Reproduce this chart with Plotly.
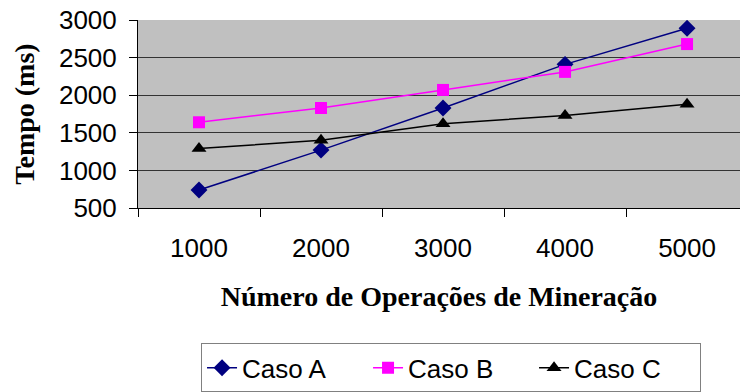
import plotly.graph_objects as go

categories = ["1000", "2000", "3000", "4000", "5000"]
caso_a = [740, 1270, 1830, 2410, 2890]
caso_b = [1640, 1830, 2070, 2310, 2680]
caso_c = [1290, 1400, 1620, 1730, 1880]
y_ticks = [500, 1000, 1500, 2000, 2500, 3000]

fig = go.Figure()
fig.add_trace(go.Scatter(x=categories, y=caso_a, name="Caso A", mode="lines+markers",
                         line=dict(color="#000080", width=1.5),
                         marker=dict(symbol="diamond", size=13, color="#000080")))
fig.add_trace(go.Scatter(x=categories, y=caso_b, name="Caso B", mode="lines+markers",
                         line=dict(color="#FF00FF", width=1.5),
                         marker=dict(symbol="square", size=12, color="#FF00FF")))
fig.add_trace(go.Scatter(x=categories, y=caso_c, name="Caso C", mode="lines+markers",
                         line=dict(color="#000000", width=1.5),
                         marker=dict(symbol="triangle-up", size=13, color="#000000")))

fig.update_layout(
    width=740, height=392,
    margin=dict(l=138, r=0, t=20, b=184, autoexpand=False),
    paper_bgcolor="white",
    plot_bgcolor="#C0C0C0",
    font=dict(family="Liberation Sans, Arial", size=26, color="black"),
    showlegend=True,
    legend=dict(orientation="h", x=0.52, xanchor="center", y=-0.72, yanchor="top",
                bordercolor="#808080", borderwidth=1, bgcolor="white",
                font=dict(size=26), entrywidth=121, tracegroupgap=0),
)
fig.update_xaxes(
    type="category", range=[-0.5, 4.434], tickson="boundaries", automargin=False,
    ticks="outside", ticklen=8, tickcolor="black", tickwidth=1,
    showline=True, linecolor="black", linewidth=1,
    showgrid=False, zeroline=False,
    ticklabelstandoff=17, ticklabeloverflow="allow",
    title=dict(text="<b>Número de Operações de Mineração</b>",
               font=dict(family="Liberation Serif, Times New Roman", size=28), standoff=24),
)
fig.update_yaxes(
    range=[500, 3000], tickvals=y_ticks, automargin=False,
    ticks="outside", ticklen=8, tickcolor="black", tickwidth=1,
    showline=True, linecolor="black", linewidth=1,
    showgrid=True, gridcolor="#333333", gridwidth=1, zeroline=False,
    ticklabelstandoff=7, ticklabeloverflow="allow",
    title=dict(text="<b>Tempo (ms)</b>",
               font=dict(family="Liberation Serif, Times New Roman", size=28), standoff=16),
)

fig.write_html("out.html",
               config={"displayModeBar": False},
               post_script="document.body.style.margin='0';document.body.style.overflow='hidden';")
